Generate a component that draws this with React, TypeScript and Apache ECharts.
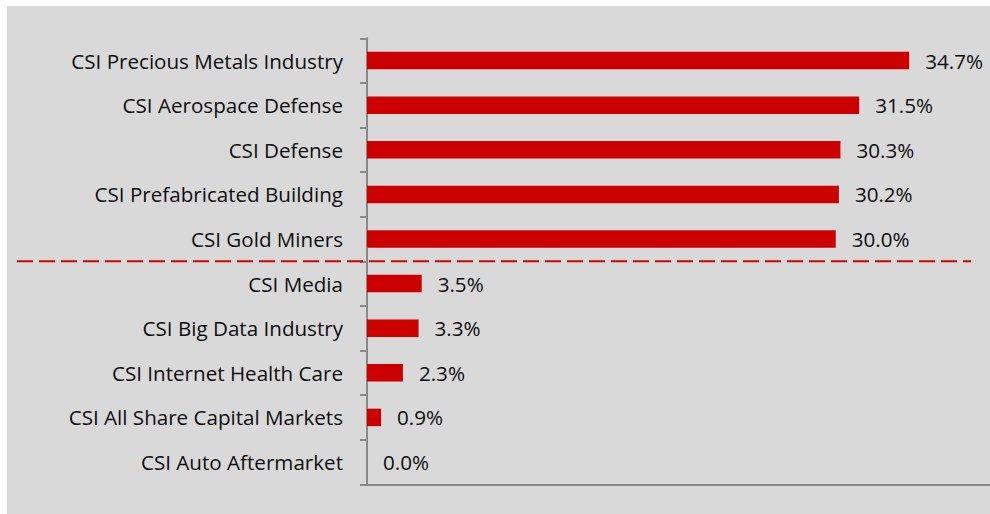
import React, { useEffect, useRef } from "react";
import * as echarts from "echarts";

const categories = [
  "CSI Precious Metals Industry",
  "CSI Aerospace Defense",
  "CSI Defense",
  "CSI Prefabricated Building",
  "CSI Gold Miners",
  "CSI Media",
  "CSI Big Data Industry",
  "CSI Internet Health Care",
  "CSI All Share Capital Markets",
  "CSI Auto Aftermarket",
];
const values = [34.7, 31.5, 30.3, 30.2, 30.0, 3.5, 3.3, 2.3, 0.9, 0.0];
const dividerAfterIndex = 4;

const FONT = "Open Sans";

export default function App() {
  const ref = useRef<HTMLDivElement>(null);
  useEffect(() => {
    if (!ref.current) return;
    const chart = echarts.init(ref.current, undefined, { renderer: "svg" });
    chart.setOption({
      animation: false,
      backgroundColor: "transparent",
      grid: { left: 367, top: 38.3, width: 625, height: 446, containLabel: false },
      xAxis: {
        type: "value",
        min: 0,
        max: 40,
        axisLine: { show: true, lineStyle: { color: "#898989", width: 2 } },
        axisTick: { show: false },
        axisLabel: { show: false },
        splitLine: { show: false },
      },
      yAxis: {
        type: "category",
        inverse: true,
        data: categories,
        axisLine: { show: true, lineStyle: { color: "#898989", width: 2 } },
        axisTick: { show: true, length: 7, lineStyle: { color: "#898989", width: 2 } },
        axisLabel: { margin: 24, color: "#0d0d0d", fontFamily: FONT, fontSize: 20.6 },
      },
      series: [
        {
          type: "bar",
          data: values,
          barWidth: 17.5,
          itemStyle: { color: "#cc0000" },
          label: {
            show: true,
            position: "right",
            distance: 16,
            color: "#0d0d0d",
            fontFamily: FONT,
            fontSize: 20.6,
            formatter: (p: any) => Number(p.value).toFixed(1) + "%",
          },
        },
      ],
    });
    const y1 = chart.convertToPixel({ yAxisIndex: 0 }, categories[dividerAfterIndex]) as number;
    const y2 = chart.convertToPixel({ yAxisIndex: 0 }, categories[dividerAfterIndex + 1]) as number;
    const yMid = (y1 + y2) / 2;
    chart.setOption({
      graphic: [
        {
          type: "rect",
          z: -10,
          shape: { x: 7, y: 6, width: 1000, height: 520 },
          style: { fill: "#d9d9d9" },
          silent: true,
        },
        {
          type: "line",
          z: 100,
          shape: { x1: 17, y1: yMid, x2: 971, y2: yMid },
          style: { stroke: "#d40000", lineWidth: 2, lineDash: [16, 6] },
          silent: true,
        },
      ],
    });
    return () => chart.dispose();
  }, []);
  return (
    <div style={{ position: "fixed", left: 0, top: 0, width: 990, height: 514, overflow: "hidden", background: "#fff" }}>
      <div ref={ref} style={{ width: 1000, height: 514 }} />
    </div>
  );
}
